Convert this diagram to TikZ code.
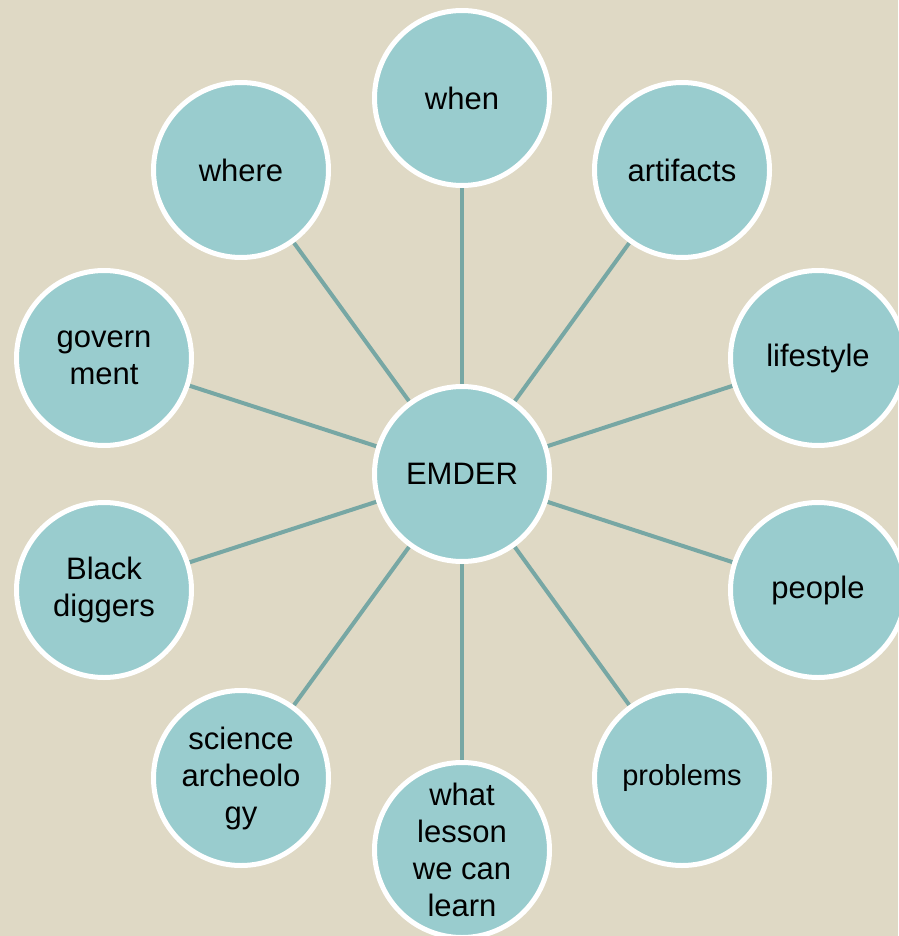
\documentclass[tikz,border=0pt]{standalone}
\usepackage{fontspec}
\setmainfont{Liberation Sans}
\usetikzlibrary{backgrounds}
\definecolor{bgc}{HTML}{DFD9C5}
\definecolor{fillc}{HTML}{99CCCE}
\definecolor{linec}{HTML}{77A7A4}
\begin{document}
\begin{tikzpicture}[x=1pt,y=-1pt,
  bubble/.style={circle, fill=fillc, draw=white, line width=5pt, minimum size=175pt, inner sep=0pt, align=center, font=\fontsize{31}{37}\selectfont},
  spoke/.style={draw=linec, line width=4pt}]
\useasboundingbox (0,0) rectangle (898,936);
\node[bubble] (c) at (462,474) {EMDER};
\node[bubble] (when) at (462,98) {when};
\node[bubble] (art) at (682,170) {artifacts};
\node[bubble] (life) at (818,358) {lifestyle};
\node[bubble] (peop) at (818,590) {people};
\node[bubble, font=\fontsize{29}{35}\selectfont] (prob) at (682,778) {problems};
\node[bubble] (less) at (462,850) {what\\lesson\\we can\\learn};
\node[bubble] (sci) at (241,778) {science\\archeolo\\gy};
\node[bubble] (black) at (104,590) {Black\\diggers};
\node[bubble] (gov) at (104,358) {govern\\ment};
\node[bubble] (where) at (241,170) {where};
\begin{scope}[on background layer]
\fill[bgc] (0,0) rectangle (898,936);
\foreach \n in {when,art,life,peop,prob,less,sci,black,gov,where}
  \draw[spoke] (c) -- (\n);
\end{scope}
\end{tikzpicture}
\end{document}
